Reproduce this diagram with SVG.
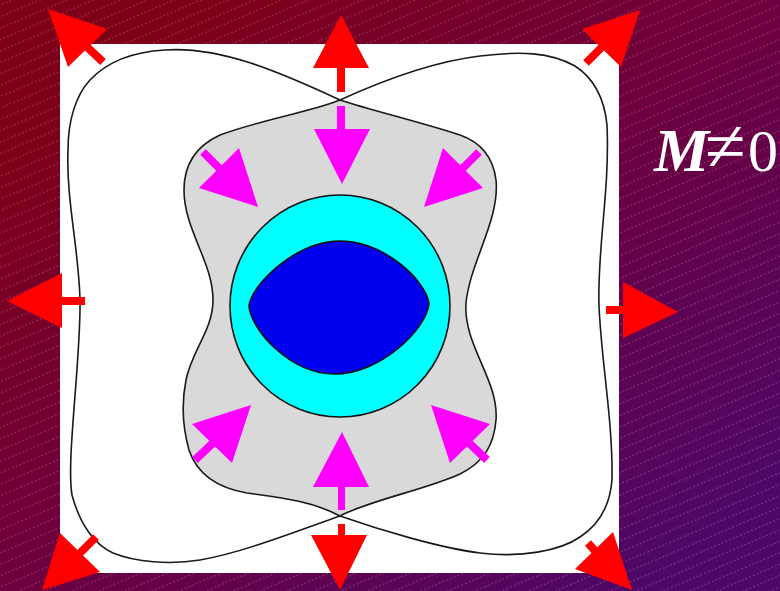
<svg xmlns="http://www.w3.org/2000/svg" width="780" height="591" viewBox="0 0 780 591">
  <defs>
    <linearGradient id="bg" gradientUnits="userSpaceOnUse" x1="200" y1="0" x2="650" y2="591">
      <stop offset="0" stop-color="#7e0018"/>
      <stop offset="0.5" stop-color="#6c0040"/>
      <stop offset="1" stop-color="#4c0868"/>
    </linearGradient>
    <pattern id="hatch" width="20" height="10.5" patternUnits="userSpaceOnUse" patternTransform="rotate(-23)">
      <line x1="0" y1="5" x2="20" y2="5" stroke="#ffb4d0" stroke-opacity="0.4" stroke-width="0.8" stroke-dasharray="2 2"/>
    </pattern>
    <style>
      .curve { fill: none; stroke: #1a1a1a; stroke-width: 1.6; }
      .red { fill: #ff0000; }
      .redShaft { stroke: #ff0000; stroke-width: 8; }
      .mag { fill: #ff00ff; }
      .magShaft { stroke: #ff00ff; stroke-width: 8; }
      .label { font-family: "Liberation Serif", "DejaVu Serif", serif; fill: #ffffff; font-size: 60px; }
    </style>
  </defs>

  <g id="background">
    <rect x="0" y="0" width="780" height="591" fill="url(#bg)"/>
    <rect x="0" y="0" width="780" height="591" fill="url(#hatch)"/>
  </g>

  <g id="panel">
    <rect x="60" y="44" width="559" height="529" fill="#ffffff"/>
  </g>

  <g id="outer-curve">
    <path class="curve" d="M340,100 C375,84 430,62 480,56 C520,51 550,52 575,66 C592,77 604,95 607,125 C610,190 597,250 599,305 C601,360 613,420 612,480 C610,505 600,524 580,537 C560,551 520,558 480,553 C440,548 380,530 340,516 C300,530 245,552 200,560 C170,565 135,562 113,553 C95,545 80,525 72,495 C66,460 81,360 80,300 C79,250 66,200 68,150 C68,120 76,95 90,80 C105,64 130,52 165,50 C220,46 280,72 340,100 Z"/>
  </g>

  <g id="grey-region">
    <path class="curve" style="fill:#d9d9d9" d="M340,100 C370,110 420,122 460,135 C480,142 493,156 496,180 C500,220 470,262 466,303 C463,345 499,380 496,420 C494,445 484,462 460,474 C425,490 370,500 340,516 C310,500 275,497 247,493 C218,488 197,474 189,450 C182,425 182,400 186,380 C192,350 213,330 213,300 C213,262 184,230 184,190 C184,165 196,146 220,135 C260,120 310,112 340,100 Z"/>
  </g>

  <g id="cyan-ring">
    <ellipse cx="340" cy="306" rx="110" ry="111" fill="#00ffff" stroke="#111111" stroke-width="1.6"/>
  </g>

  <g id="blue-core">
    <path d="M249,306 C251,285 296,241 340,241 C385,241 427,282 429,304 C426,330 380,374 335,374 C290,374 251,330 249,306 Z" fill="#0000f0" stroke="#111111" stroke-width="1.6"/>
  </g>

  <g id="connectors">
    <g id="red-arrows">
      <rect class="red" x="337" y="66" width="8" height="26"/>
      <polygon class="red" points="341,15 313,68 369,68"/>
      <rect class="red" x="338" y="524" width="7" height="13"/>
      <polygon class="red" points="311,535 367,535 340,590"/>
      <rect class="red" x="60" y="297" width="25" height="8"/>
      <polygon class="red" points="7,301 62,273 62,328"/>
      <rect class="red" x="606" y="306" width="19" height="8"/>
      <polygon class="red" points="623,282 623,338 678,312"/>
      <line class="redShaft" x1="86" y1="46" x2="103" y2="62"/>
      <polygon class="red" points="48,9 107,29 68,67"/>
      <line class="redShaft" x1="603" y1="46" x2="586" y2="63"/>
      <polygon class="red" points="640,10 582,29 621,67"/>
      <line class="redShaft" x1="78" y1="555" x2="96" y2="537"/>
      <polygon class="red" points="42,590 60,533 100,572"/>
      <line class="redShaft" x1="596" y1="552" x2="588" y2="543"/>
      <polygon class="red" points="632,590 575,569 613,532"/>
    </g>
    <g id="magenta-arrows">
      <rect class="mag" x="337" y="106" width="8" height="25"/>
      <polygon class="mag" points="314,129 370,129 342,184"/>
      <rect class="mag" x="338" y="485" width="7" height="25"/>
      <polygon class="mag" points="342,432 313,487 369,487"/>
      <line class="magShaft" x1="479" y1="152" x2="460" y2="171"/>
      <polygon class="mag" points="443,148 483,188 424,207"/>
      <line class="magShaft" x1="203" y1="152" x2="222" y2="171"/>
      <polygon class="mag" points="239,148 199,188 258,207"/>
      <line class="magShaft" x1="195" y1="460" x2="214" y2="442"/>
      <polygon class="mag" points="192,424 232,463 251,405"/>
      <line class="magShaft" x1="487" y1="460" x2="468" y2="442"/>
      <polygon class="mag" points="490,424 450,463 431,405"/>
    </g>
  </g>

  <g id="label">
    <text class="label" y="171"><tspan x="654" font-weight="bold" font-style="italic" font-size="62">M</tspan><tspan x="705" font-size="74">≠</tspan><tspan x="748" font-size="60">0</tspan></text>
  </g>
</svg>
